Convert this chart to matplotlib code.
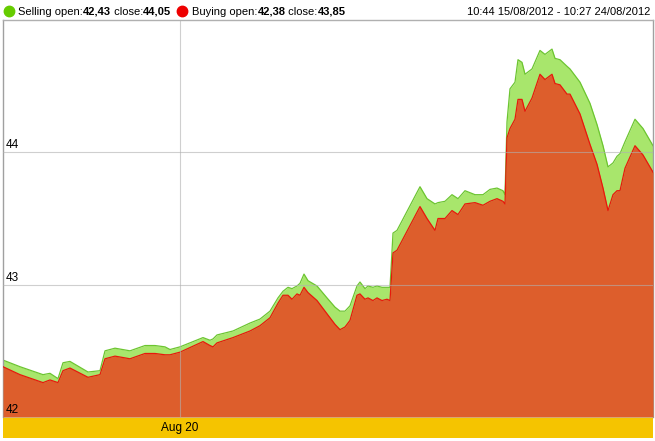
import matplotlib
matplotlib.use("Agg")
import matplotlib.pyplot as plt

# ---- data ----
# t: position along the period (0 = 10:44 15/08/2012, 650 = 10:27 24/08/2012)
t = [0, 17, 40, 47, 55, 60, 67, 85, 97, 102, 112, 127, 142, 152, 162, 167, 177,
     200, 207, 210, 214, 230, 247, 257, 267, 275, 280, 285, 289, 294, 297, 301,
     305, 314, 324, 332, 337, 342, 347, 354, 357, 362, 365, 370, 374, 379, 384,
     387, 390, 394, 417, 424, 432, 435, 442, 449, 455, 462, 472, 480, 487, 494,
     500, 502, 504, 507, 512, 515, 519, 522, 529, 537, 542, 549, 552, 557, 564,
     567, 577, 587, 594, 600, 605, 610, 614, 617, 622, 632, 640, 650]

buying = [42.38, 42.32, 42.26, 42.28, 42.26, 42.35, 42.37, 42.30, 42.32, 42.44,
          42.46, 42.44, 42.48, 42.48, 42.47, 42.47, 42.49, 42.57, 42.54, 42.53,
          42.56, 42.60, 42.65, 42.69, 42.75, 42.86, 42.92, 42.92, 42.89, 42.93,
          42.92, 42.98, 42.94, 42.88, 42.78, 42.70, 42.66, 42.68, 42.73, 42.92,
          42.93, 42.89, 42.90, 42.88, 42.90, 42.88, 42.89, 42.88, 43.24, 43.26,
          43.59, 43.50, 43.41, 43.50, 43.50, 43.56, 43.53, 43.61, 43.62, 43.60,
          43.63, 43.65, 43.63, 43.61, 44.11, 44.18, 44.25, 44.40, 44.40, 44.31,
          44.41, 44.59, 44.55, 44.59, 44.52, 44.51, 44.44, 44.44, 44.29, 44.06,
          43.91, 43.73, 43.56, 43.68, 43.71, 43.71, 43.88, 44.05, 43.98, 43.85]

selling = [42.43, 42.38, 42.32, 42.33, 42.29, 42.41, 42.42, 42.34, 42.35, 42.50,
           42.52, 42.50, 42.54, 42.54, 42.53, 42.51, 42.53, 42.60, 42.58, 42.59,
           42.62, 42.65, 42.71, 42.74, 42.80, 42.90, 42.95, 42.98, 42.97, 42.99,
           43.01, 43.08, 43.03, 42.99, 42.90, 42.83, 42.80, 42.80, 42.84, 42.99,
           43.02, 42.97, 42.99, 42.98, 42.99, 42.98, 42.98, 42.98, 43.39, 43.41,
           43.74, 43.65, 43.61, 43.62, 43.63, 43.68, 43.65, 43.71, 43.68, 43.68,
           43.72, 43.73, 43.71, 43.68, 44.23, 44.48, 44.53, 44.70, 44.68, 44.59,
           44.63, 44.77, 44.74, 44.78, 44.71, 44.70, 44.65, 44.63, 44.53, 44.37,
           44.21, 44.05, 43.89, 43.92, 43.97, 43.99, 44.08, 44.25, 44.18, 44.05]

y_ticks = [42, 43, 44]
x_tick_pos = [177]
x_tick_labels = ["Aug 20"]
header_selling = ["Selling open:", "42,43", " close:", "44,05"]
header_buying = ["Buying open:", "42,38", " close:", "43,85"]
header_range = "10:44 15/08/2012 - 10:27 24/08/2012"

# ---- figure ----
W, H = 655, 441
plt.rcParams['font.family'] = ['Liberation Sans', 'DejaVu Sans']
fig = plt.figure(figsize=(W / 100, H / 100), dpi=100)

x0, x1 = 3, 653
ytop, ybot = 20, 417
ax = fig.add_axes([x0 / W, 1 - ybot / H, (x1 - x0) / W, (ybot - ytop) / H])
ax.set_xlim(0, 650)
ax.set_ylim(42, 45)

sell_fill = '#a8e66c'
sell_line = '#6cc530'
buy_fill = '#dd5e2c'
buy_line = '#e8180c'

ax.fill_between(t, 42, selling, color=sell_fill, lw=0, zorder=1)
ax.plot(t, selling, color=sell_line, lw=0.9, zorder=2)
ax.fill_between(t, 42, buying, color=buy_fill, lw=0, zorder=3)
ax.plot(t, buying, color=buy_line, lw=0.9, zorder=4)

for yv in y_ticks[1:]:
    ax.axhline(yv, color='#b0b0b0', lw=0.8, alpha=0.6, zorder=5)
for xv in x_tick_pos:
    ax.axvline(xv, color='#b0b0b0', lw=0.8, alpha=0.6, zorder=5)

for yv in y_ticks:
    ax.text(3, yv + 0.008, str(yv), fontsize=8.5, color='black', ha='left',
            va='bottom', zorder=6)

ax.set_xticks([])
ax.set_yticks([])
for side in ['top', 'bottom']:
    ax.spines[side].set_visible(False)
for side in ['left', 'right']:
    ax.spines[side].set_color('#a0a0a0')
    ax.spines[side].set_linewidth(1.0)

# top separator line
fig.add_artist(plt.Line2D([x0 / W, x1 / W], [1 - ytop / H, 1 - ytop / H],
                          color='#b0b0b0', lw=1.0))

# yellow date band
band = fig.add_axes([x0 / W, 1 - 438 / H, (x1 - x0) / W, 20 / H])
band.set_facecolor('#f5c400')
band.set_xlim(0, 650)
band.set_ylim(0, 1)
band.set_xticks([])
band.set_yticks([])
for s in band.spines.values():
    s.set_visible(False)
for xp, lab in zip(x_tick_pos, x_tick_labels):
    band.text(xp, 0.5, lab, ha='center', va='center', fontsize=8.5, color='black')

# header
renderer = fig.canvas.get_renderer()


def draw_pieces(x_px, pieces):
    x = x_px
    for i, p in enumerate(pieces):
        wt = 'bold' if i % 2 == 1 else 'normal'
        txt = fig.text(x / W, 1 - 12 / H, p, fontsize=8, fontweight=wt,
                       ha='left', va='center')
        bb = txt.get_window_extent(renderer=renderer)
        x += bb.width


fig.add_artist(plt.Line2D([9 / W], [1 - 11 / H], marker='o', ms=7.5,
                          color='#66cc00', lw=0))
draw_pieces(18, header_selling)
fig.add_artist(plt.Line2D([182 / W], [1 - 11 / H], marker='o', ms=7.5,
                          color='#ee0000', lw=0))
draw_pieces(192, header_buying)
fig.text(650 / W, 1 - 12 / H, header_range, fontsize=8, ha='right',
         va='center')

fig.savefig('out.png', dpi=100)
